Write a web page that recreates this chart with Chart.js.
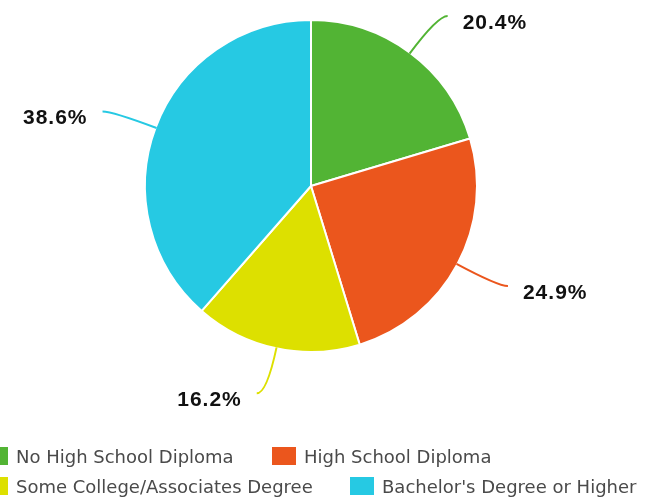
<!DOCTYPE html>
<html lang="en">
  <head>
    <meta charset="UTF-8" />
    <title>Education pie</title>
    <style>
      * {
        box-sizing: border-box;
        margin: 0;
        padding: 0;
      }
      body,
      html {
        width: 647px;
        height: 500px;
        background: white;
        overflow: hidden;
      }
      .chart {
        position: absolute;
        top: 0;
        left: 0;
        width: 647px;
        height: 500px;
      }
      .legend {
        position: absolute;
        left: 0;
        top: 0;
        width: 647px;
        height: 500px;
        font-family: "DejaVu Sans", sans-serif;
        font-size: 18px;
        color: #4a4a4a;
        pointer-events: none;
      }
      .legend__item {
        position: absolute;
        display: flex;
        align-items: center;
        height: 18px;
      }
      .legend__box {
        width: 24px;
        height: 18px;
        margin-right: 8px;
      }
    </style>
  </head>
  <body>
    <div class="chart"><canvas id="pieChart" width="647" height="500"></canvas></div>
    <div class="legend" id="legend"></div>

    <script src="https://cdn.jsdelivr.net/npm/chart.js"></script>
    <script>
      const categories = [
        "No High School Diploma",
        "High School Diploma",
        "Some College/Associates Degree",
        "Bachelor's Degree or Higher",
      ];
      const shares = [20.4, 24.9, 16.2, 38.6];
      const sliceColors = ["#52b434", "#eb561d", "#dde000", "#26c9e3"];

      // leader lines + percentage labels
      const leaderLabels = {
        id: "leaderLabels",
        afterDatasetsDraw(chart) {
          const ctx = chart.ctx;
          const meta = chart.getDatasetMeta(0);
          ctx.save();
          meta.data.forEach((arc, i) => {
            const mid = (arc.startAngle + arc.endAngle) / 2;
            const r = arc.outerRadius;
            const cx = arc.x;
            const cy = arc.y;
            const x0 = cx + Math.cos(mid) * (r - 1);
            const y0 = cy + Math.sin(mid) * (r - 1);
            const x1 = cx + Math.cos(mid) * (r + 46);
            const y1 = cy + Math.sin(mid) * (r + 46);
            const right = Math.cos(mid) >= 0;
            const x2 = x1 + (right ? 10 : -10);
            const y2 = y1;

            ctx.strokeStyle = sliceColors[i];
            ctx.lineWidth = 2;
            ctx.beginPath();
            ctx.moveTo(x0, y0);
            ctx.quadraticCurveTo(x1, y1, x2, y2);
            ctx.stroke();

            ctx.fillStyle = "#111";
            ctx.font = "bold 21px 'Liberation Sans', Arial, sans-serif";
            ctx.letterSpacing = "1px";
            ctx.textBaseline = "middle";
            ctx.textAlign = right ? "left" : "right";
            ctx.fillText(
              shares[i].toFixed(1) + "%",
              x2 + (right ? 15 : -15),
              y2 + 7
            );
          });
          ctx.restore();
        },
      };

      const pieChart = new Chart(document.getElementById("pieChart"), {
        type: "pie",
        data: {
          labels: categories,
          datasets: [
            {
              data: shares,
              backgroundColor: sliceColors,
              borderColor: "#ffffff",
              borderWidth: 2,
            },
          ],
        },
        options: {
          responsive: false,
          animation: false,
          layout: {
            padding: { left: 144, right: 169, top: 19, bottom: 147 },
          },
          plugins: {
            legend: { display: false },
            tooltip: { enabled: false },
          },
        },
        plugins: [leaderLabels],
      });

      // two column legend
      const legendSpots = [
        { left: -16, top: 447 },
        { left: 272, top: 447 },
        { left: -16, top: 477 },
        { left: 350, top: 477 },
      ];
      const legend = document.getElementById("legend");
      categories.forEach((name, i) => {
        const item = document.createElement("div");
        item.className = "legend__item";
        item.style.left = legendSpots[i].left + "px";
        item.style.top = legendSpots[i].top + "px";
        item.innerHTML =
          '<span class="legend__box" style="background:' +
          sliceColors[i] +
          '"></span><span>' +
          name +
          "</span>";
        legend.appendChild(item);
      });
    </script>
  </body>
</html>
